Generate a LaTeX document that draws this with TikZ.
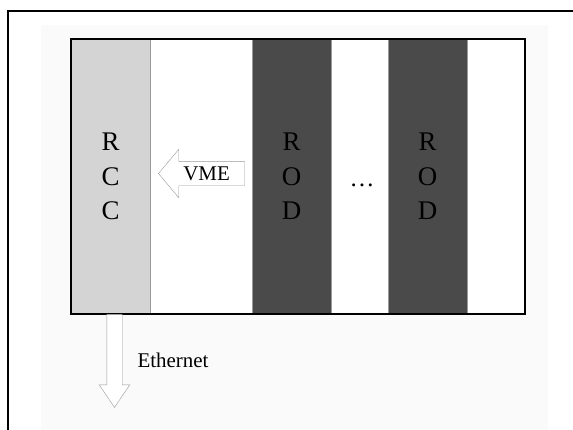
\documentclass[tikz,border=0pt]{standalone}
\usepackage{fontspec}
\setmainfont{Liberation Serif}
\usepackage{tikz}
\usetikzlibrary{positioning,shapes.arrows,backgrounds}

\begin{document}
\begin{tikzpicture}[
    x=1bp, y=-1bp,
    rccCol/.style={rectangle, draw=gray!80, fill=black!17, minimum width=79bp, minimum height=275bp, align=center, font=\fontsize{27}{34.5}\selectfont, text=black},
    rodCol/.style={rectangle, draw=gray!80, fill=black!71, minimum width=79bp, minimum height=275bp, align=center, font=\fontsize{27}{34.5}\selectfont, text=black},
    crateBox/.style={rectangle, draw=black, line width=1.3bp, minimum width=454bp, minimum height=275bp},
    vmeArrow/.style={single arrow, draw=gray!80, fill=white, shape border rotate=180, single arrow head extend=12bp, single arrow tip angle=100, minimum height=86bp, inner xsep=2bp, inner ysep=5bp, font=\fontsize{21}{21}\selectfont},
    ethArrow/.style={single arrow, draw=gray!80, fill=white, shape border rotate=270, single arrow head extend=7.5bp, single arrow tip angle=68, minimum height=93bp, inner xsep=7.5bp, inner ysep=0pt},
    ethLabel/.style={font=\fontsize{21}{21}\selectfont, anchor=west, text=black}
]
\useasboundingbox (0,0) rectangle (573,429);
\clip (0,0) rectangle (573,429);

% ================= FRAME =================
\draw[line width=2bp] (7.5,440) -- (7.5,10.5) -- (580,10.5);

% ================= CRATE =================
\node[rccCol] (rcc) at (110.5,176.5) {R\\C\\C};
\node[rodCol] (rodA) at (291.5,176.5) {R\\O\\D};
\node[rodCol] (rodB) at (427.5,176.5) {R\\O\\D};
\node[font=\fontsize{25}{25}\selectfont, anchor=base] (dots) at (362,186) {\dots};
\node[crateBox] (crate) at (298,176.5) {};

\begin{scope}[on background layer]
    \fill[black!2] (41,25) rectangle (548,440);
    \fill[white] (crate.north west) rectangle (crate.south east);
\end{scope}

% ================= BUSES =================
\node[vmeArrow, anchor=tip] (vme) at ([xshift=8bp]rcc.east |- 0,173.5) {VME};
\node[ethArrow, anchor=tail] (eth) at ([xshift=4bp]rcc.south) {};
\node[ethLabel] (ethText) at (134,360) {Ethernet};

\end{tikzpicture}
\end{document}
